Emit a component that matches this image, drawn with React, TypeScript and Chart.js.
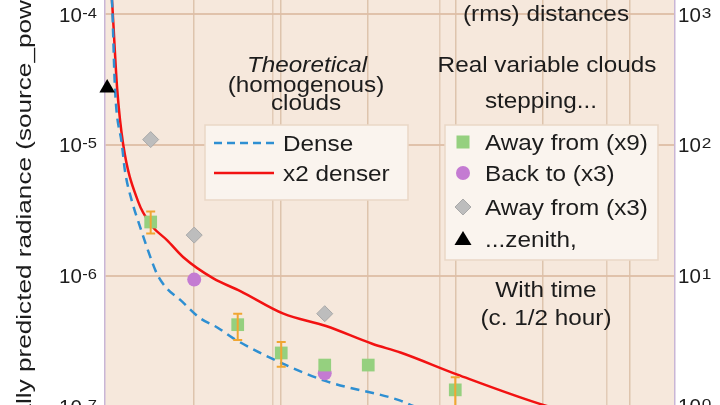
import React, { useEffect, useRef } from "react";
import { Chart, registerables } from "chart.js";
Chart.register(...registerables);

// ---- data ----
const denseX = [0, 0.11, 0.18, 0.34, 0.41, 0.57, 0.76, 0.94, 1.15, 1.38, 1.68, 2.14, 2.53, 2.9, 4.05, 5.03, 6.74, 7.03, 8.0];
const denseY = [3.8e-4, 1.29e-4, 2.69e-5, 1.0e-5, 6.3e-6, 3.7e-6, 2.34e-6, 1.55e-6, 1.02e-6, 7.9e-7, 6.5e-7, 4.7e-7, 4.0e-7, 3.3e-7, 2.1e-7, 1.55e-7, 1.1e-7, 1.0e-7, 7.9e-8];
const denserX = [0, 0.11, 0.23, 0.37, 0.71, 1.03, 1.38, 1.75, 2.44, 3.06, 4.05, 5.03, 6.09, 6.74, 8.05, 10.1, 11.5];
const denserY = [3.8e-4, 1.29e-4, 2.69e-5, 1.0e-5, 3.7e-6, 2.4e-6, 1.86e-6, 1.38e-6, 9.5e-7, 7.6e-7, 5.1e-7, 4.1e-7, 3.0e-7, 2.57e-7, 1.74e-7, 1.0e-7, 7.6e-8];

const away9X = [1, 3, 4, 5, 6, 8];
const away9Y = [2.57e-6, 4.2e-7, 2.55e-7, 2.06e-7, 2.06e-7, 1.33e-7];
const errX = [1, 3, 4, 8];
const errHi = [3.1e-6, 5.1e-7, 3.1e-7, 1.66e-7];
const errLo = [2.1e-6, 3.2e-7, 2.0e-7, 8.9e-8];
const back3X = [2, 5];
const back3Y = [9.3e-7, 1.78e-7];
const away3X = [1, 2, 5];
const away3Y = [1.1e-5, 2.04e-6, 5.1e-7];
const zenithX = [0];
const zenithY = [2.73e-5];

const xGrid = [2, 4, 6, 8, 10, 12];
const xTopGrid = [3.81, 7.65, 11.49];
const yTicks = [1e-4, 1e-5, 1e-6, 1e-7];
const yTickExp = ["-4", "-5", "-6", "-7"];
const y2Ticks = [1e3, 1e2, 1e1, 1e0];
const y2TickExp = ["3", "2", "1", "0"];

const yTitle = "Theoretically predicted radiance (source_power)";
const yTitleHidden = "Theoretically ";

const OFF = 30; // canvas top offset above page
const FONT = '"Liberation Sans", Arial, Helvetica, sans-serif';
const TXT = "#1c1c1c";

const COL_DENSE = "#2e8fd2";
const COL_RED = "#f21212";
const COL_GREEN = "#95d07f";
const COL_PURPLE = "#c47bd2";
const COL_GRAY = "#bdbdbd";
const COL_ERR = "#f0a632";

function zip(xs: number[], ys: number[]) {
  return xs.map((x, i) => ({ x, y: ys[i] }));
}

function txt(ctx: CanvasRenderingContext2D, s: string, x: number, y: number, size: number, o: any = {}) {
  ctx.save();
  ctx.font = `${o.italic ? "italic " : ""}${size}px ${FONT}`;
  ctx.fillStyle = o.color || TXT;
  ctx.textBaseline = "alphabetic";
  ctx.textAlign = o.align || "left";
  ctx.translate(x, y + OFF);
  ctx.scale(o.sx || 1, 1);
  ctx.fillText(s, 0, 0);
  ctx.restore();
}
function measure(ctx: CanvasRenderingContext2D, s: string, size: number, sx = 1) {
  ctx.save();
  ctx.font = `${size}px ${FONT}`;
  const w = ctx.measureText(s).width * sx;
  ctx.restore();
  return w;
}

function marker(ctx: CanvasRenderingContext2D, kind: string, x: number, y: number) {
  ctx.save();
  y += OFF;
  ctx.beginPath();
  if (kind === "rect") {
    ctx.fillStyle = COL_GREEN;
    ctx.rect(x - 6.5, y - 6.5, 13, 13);
    ctx.fill();
  } else if (kind === "circle") {
    ctx.fillStyle = COL_PURPLE;
    ctx.arc(x, y, 7, 0, Math.PI * 2);
    ctx.fill();
  } else if (kind === "diamond") {
    ctx.fillStyle = COL_GRAY;
    ctx.strokeStyle = "#a9a9a9";
    ctx.moveTo(x, y - 8);
    ctx.lineTo(x + 8, y);
    ctx.lineTo(x, y + 8);
    ctx.lineTo(x - 8, y);
    ctx.closePath();
    ctx.fill();
    ctx.stroke();
  } else if (kind === "triangle") {
    ctx.fillStyle = "#000";
    ctx.moveTo(x, y - 8);
    ctx.lineTo(x + 8.5, y + 6);
    ctx.lineTo(x - 8.5, y + 6);
    ctx.closePath();
    ctx.fill();
  }
  ctx.restore();
}

function box(ctx: CanvasRenderingContext2D, x: number, y: number, w: number, h: number) {
  ctx.save();
  ctx.fillStyle = "#faf4ee";
  ctx.strokeStyle = "#ead7c6";
  ctx.lineWidth = 1.5;
  ctx.fillRect(x, y + OFF, w, h);
  ctx.strokeRect(x, y + OFF, w, h);
  ctx.restore();
}

const decorPlugin = {
  id: "decor",
  beforeDraw(chart: any) {
    const { ctx, chartArea: a } = chart;
    ctx.save();
    ctx.fillStyle = "#fff";
    ctx.fillRect(0, 0, chart.width, chart.height);
    ctx.fillStyle = "#f6e8dc";
    ctx.fillRect(a.left, a.top, a.right - a.left, a.bottom - a.top);
    ctx.restore();
  },
  afterDatasetsDraw(chart: any) {
    const { ctx } = chart;
    const xs = chart.scales.x;
    const ys = chart.scales.y;
    ctx.save();
    ctx.strokeStyle = COL_ERR;
    ctx.lineWidth = 2;
    errX.forEach((xv, i) => {
      const px = xs.getPixelForValue(xv);
      const p1 = ys.getPixelForValue(errHi[i]);
      const p2 = ys.getPixelForValue(errLo[i]);
      ctx.beginPath();
      ctx.moveTo(px, p1);
      ctx.lineTo(px, p2);
      ctx.moveTo(px - 4.5, p1);
      ctx.lineTo(px + 4.5, p1);
      ctx.moveTo(px - 4.5, p2);
      ctx.lineTo(px + 4.5, p2);
      ctx.stroke();
    });
    ctx.restore();
  },
  afterDraw(chart: any) {
    const { ctx } = chart;
    const ys = chart.scales.y;
    const y2 = chart.scales.y2;
    yTicks.forEach((v, i) => {
      const py = ys.getPixelForValue(v) - OFF;
      const sw = measure(ctx, yTickExp[i], 15, 1.1);
      const right = 97;
      txt(ctx, yTickExp[i], right - sw, py + 3.5, 15, { sx: 1.1 });
      txt(ctx, "10", right - sw - 0.5, py + 7.5, 20.5, { align: "right" });
    });
    y2Ticks.forEach((v, i) => {
      const py = y2.getPixelForValue(v) - OFF;
      const w10 = measure(ctx, "10", 20.5);
      txt(ctx, "10", 678, py + 7.5, 20.5);
      txt(ctx, y2TickExp[i], 678 + w10 + 1, py + 3.5, 15, { sx: 1.15 });
    });
    ctx.save();
    const tSize = 19.5, tScale = 1.34;
    ctx.font = `${tSize}px ${FONT}`;
    const pre = ctx.measureText(yTitleHidden).width * tScale;
    ctx.translate(31, 372 + pre + OFF);
    ctx.rotate(-Math.PI / 2);
    ctx.scale(tScale, 1);
    ctx.fillStyle = TXT;
    ctx.textAlign = "left";
    ctx.textBaseline = "alphabetic";
    ctx.fillText(yTitle, 0, 0);
    ctx.restore();

    const S = 22.5, SX = 1.08;
    txt(ctx, "Theoretical", 307, 72, S, { align: "center", italic: true, sx: SX });
    txt(ctx, "(homogenous)", 306, 92, S, { align: "center", sx: SX });
    txt(ctx, "clouds", 306, 110, S, { align: "center", sx: SX });
    txt(ctx, "(rms) distances", 546, 21, S, { align: "center", sx: SX });
    txt(ctx, "Real variable clouds", 547, 72, S, { align: "center", sx: SX });
    txt(ctx, "stepping...", 541, 108, S, { align: "center", sx: SX });
    txt(ctx, "With time", 546, 297, S, { align: "center", sx: SX });
    txt(ctx, "(c. 1/2 hour)", 546, 325, S, { align: "center", sx: SX });

    box(ctx, 205, 125, 203, 75);
    ctx.save();
    ctx.lineWidth = 2.5;
    ctx.strokeStyle = COL_DENSE;
    ctx.setLineDash([8, 5]);
    ctx.beginPath();
    ctx.moveTo(214, 143 + OFF);
    ctx.lineTo(274, 143 + OFF);
    ctx.stroke();
    ctx.setLineDash([]);
    ctx.strokeStyle = COL_RED;
    ctx.beginPath();
    ctx.moveTo(214, 173 + OFF);
    ctx.lineTo(274, 173 + OFF);
    ctx.stroke();
    ctx.restore();
    txt(ctx, "Dense", 283, 151, S, { sx: SX });
    txt(ctx, "x2 denser", 283, 181, S, { sx: SX });

    box(ctx, 445, 125, 213, 135);
    const rows = [
      ["rect", "Away from (x9)", 142],
      ["circle", "Back to (x3)", 173],
      ["diamond", "Away from (x3)", 207],
      ["triangle", "...zenith,", 239],
    ];
    rows.forEach(([k, label, y]: any) => {
      marker(ctx, k, 463, y);
      txt(ctx, label, 485, y + 8, S, { sx: SX });
    });
  },
};

export default function App() {
  const ref = useRef<HTMLCanvasElement>(null);
  useEffect(() => {
    if (!ref.current) return;
    const common = { showLine: false, borderWidth: 0, order: 1, clip: false as any };
    const chart = new Chart(ref.current, {
      type: "line",
      data: {
        datasets: [
          {
            label: "Dense",
            data: zip(denseX, denseY),
            borderColor: COL_DENSE,
            borderDash: [9, 6],
            borderWidth: 2.5,
            pointRadius: 0,
            cubicInterpolationMode: "monotone",
            order: 2,
          },
          {
            label: "x2 denser",
            data: zip(denserX, denserY),
            borderColor: COL_RED,
            borderWidth: 2.5,
            pointRadius: 0,
            cubicInterpolationMode: "monotone",
            order: 2,
          },
          {
            label: "Away from (x9)",
            data: zip(away9X, away9Y),
            pointStyle: "rect",
            pointRadius: 9,
            backgroundColor: COL_GREEN,
            borderColor: COL_GREEN,
            ...common,
          },
          {
            label: "Back to (x3)",
            data: zip(back3X, back3Y),
            pointStyle: "circle",
            pointRadius: 7,
            backgroundColor: COL_PURPLE,
            borderColor: COL_PURPLE,
            ...common,
          },
          {
            label: "Away from (x3)",
            data: zip(away3X, away3Y),
            pointStyle: "rectRot",
            pointRadius: 8,
            backgroundColor: COL_GRAY,
            borderColor: "#a9a9a9",
            ...common,
            borderWidth: 1,
          },
          {
            label: "...zenith,",
            data: zip(zenithX, zenithY),
            pointStyle: "triangle",
            pointRadius: 9,
            backgroundColor: "#000",
            borderColor: "#000",
            ...common,
          },
        ],
      },
      options: {
        animation: false,
        responsive: false,
        devicePixelRatio: 1,
        layout: { padding: { left: 105, right: 45, top: 24.9, bottom: 24.4 } },
        plugins: { legend: { display: false }, tooltip: { enabled: false } },
        elements: { point: { hoverRadius: 0 } },
        scales: {
          x: {
            type: "linear",
            min: -0.05,
            max: 13.05,
            afterBuildTicks: (s: any) => { s.ticks = xGrid.map((v) => ({ value: v })); },
            ticks: { display: false },
            grid: { color: "rgba(214,184,158,0.75)", lineWidth: 1.5, drawTicks: false },
            border: { display: false },
          },
          x2: {
            type: "linear",
            position: "top",
            min: -0.05,
            max: 13.05,
            afterBuildTicks: (s: any) => { s.ticks = xTopGrid.map((v) => ({ value: v })); },
            ticks: { display: false },
            grid: { color: "rgba(214,184,158,0.6)", lineWidth: 1.5, drawTicks: false },
            border: { display: false },
          },
          y: {
            type: "logarithmic",
            min: Math.pow(10, -7.15),
            max: Math.pow(10, -3.85),
            afterBuildTicks: (s: any) => { s.ticks = yTicks.map((v) => ({ value: v })); },
            ticks: { display: false },
            grid: { color: "rgba(222,190,165,0.9)", lineWidth: 2, drawTicks: false },
            border: { color: "#c9b6d6", width: 1.5 },
          },
          y2: {
            type: "logarithmic",
            position: "right",
            min: Math.pow(10, -0.15),
            max: Math.pow(10, 3.15),
            afterBuildTicks: (s: any) => { s.ticks = y2Ticks.map((v) => ({ value: v })); },
            ticks: { display: false },
            grid: { display: false, drawTicks: false },
            border: { color: "#c9b6d6", width: 1.5 },
          },
        },
      },
      plugins: [decorPlugin],
    });
    return () => chart.destroy();
  }, []);
  return (
    <div style={{ position: "fixed", left: 0, top: -OFF, width: 720, height: 480, overflow: "hidden" }}>
      <canvas ref={ref} width={720} height={480} style={{ display: "block", width: 720, height: 480 }} />
    </div>
  );
}
